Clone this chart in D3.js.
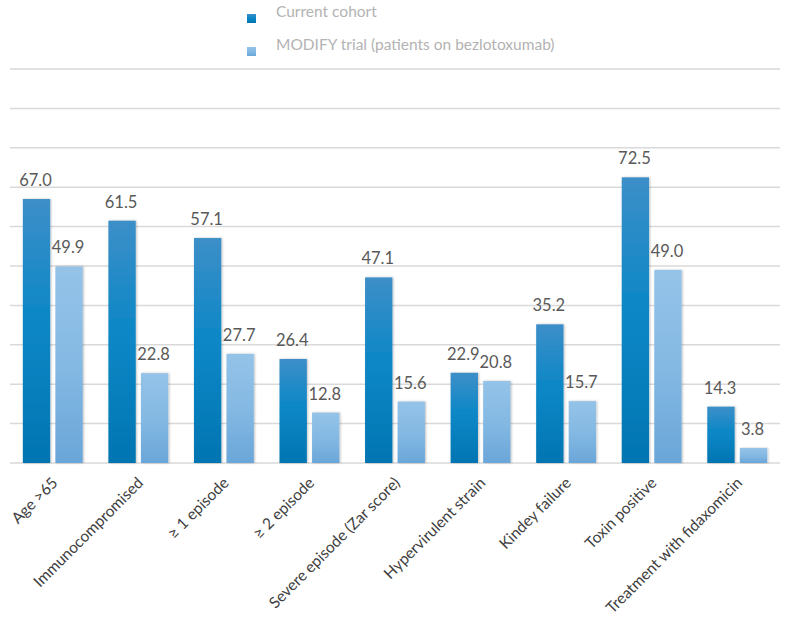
<!DOCTYPE html>
<html>
<head>
<meta charset="utf-8">
<script src="https://cdn.jsdelivr.net/npm/d3@7"></script>
<style>
  body { margin: 0; background: #fff; }
  svg text { font-family: Lato, "Open Sans", sans-serif; }
</style>
</head>
<body>
<div id="chart"></div>
<script>
// chart values
const categories = ["Age >65", "Immunocompromised", "\u2265 1 episode", "\u2265 2 episode",
  "Severe episode (Zar score)", "Hypervirulent strain", "Kindey failure",
  "Toxin positive", "Treatment with fidaxomicin"];
const seriesNames = ["Current cohort", "MODIFY trial (patients on bezlotoxumab)"];
const currentCohort = [67.0, 61.5, 57.1, 26.4, 47.1, 22.9, 35.2, 72.5, 14.3];
const modifyTrial = [49.9, 22.8, 27.7, 12.8, 15.6, 20.8, 15.7, 49.0, 3.8];
const gridTicks = [0, 10, 20, 30, 40, 50, 60, 70, 80, 90, 100];

function main() {
    const width = 790, height = 625;
    const margin = { top: 69, right: 10, bottom: 162, left: 10 };

    const svg = d3.select("#chart").append("svg")
        .attr("width", width)
        .attr("height", height);

    // gradients for the two series
    const defs = svg.append("defs");
    const grads = [
        ["g0", [["0%", "#3d8fc8"], ["50%", "#0786c6"], ["100%", "#0675b1"]]],
        ["g1", [["0%", "#95c3e8"], ["50%", "#84b9e3"], ["100%", "#6aa6d9"]]]
    ];
    grads.forEach(g => {
        const lg = defs.append("linearGradient")
            .attr("id", g[0])
            .attr("x1", 0).attr("y1", 0).attr("x2", 0).attr("y2", 1);
        g[1].forEach(s => lg.append("stop").attr("offset", s[0]).attr("stop-color", s[1]));
    });
    const shadow = defs.append("filter").attr("id", "shadow")
        .attr("x", "-20%").attr("y", "-5%").attr("width", "140%").attr("height", "110%");
    shadow.append("feDropShadow")
        .attr("dx", 1).attr("dy", 0).attr("stdDeviation", 1.2)
        .attr("flood-color", "#000").attr("flood-opacity", 0.25);

    const x0 = d3.scaleBand()
        .domain(categories)
        .range([margin.left, width - margin.right])
        .paddingInner(0.3)
        .paddingOuter(0.15);

    const x1 = d3.scaleBand()
        .domain([0, 1])
        .range([0, x0.bandwidth()])
        .paddingInner(0.16);

    const y = d3.scaleLinear()
        .domain([0, 100])
        .range([height - margin.bottom, margin.top]);

    // gridlines
    svg.append("g")
        .selectAll("line")
        .data(gridTicks)
        .enter()
        .append("line")
        .attr("x1", margin.left)
        .attr("x2", width - margin.right)
        .attr("y1", d => y(d))
        .attr("y2", d => y(d))
        .attr("stroke", "#d9d9d9")
        .attr("stroke-width", 1.5);

    const rows = categories.map((c, i) => ({ cat: c, vals: [currentCohort[i], modifyTrial[i]] }));

    const groups = svg.append("g")
        .selectAll("g")
        .data(rows)
        .enter()
        .append("g")
        .attr("transform", d => "translate(" + x0(d.cat) + ",0)");

    groups.selectAll("rect")
        .data(d => d.vals.map((v, k) => ({ v: v, k: k })))
        .enter()
        .append("rect")
        .attr("x", d => x1(d.k))
        .attr("y", d => y(d.v))
        .attr("width", x1.bandwidth())
        .attr("height", d => y(0) - y(d.v))
        .attr("fill", d => "url(#g" + d.k + ")")
        .attr("filter", "url(#shadow)");

    groups.selectAll("text")
        .data(d => d.vals.map((v, k) => ({ v: v, k: k })))
        .enter()
        .append("text")
        .attr("x", d => x1(d.k) + x1.bandwidth() / 2 - 1)
        .attr("y", d => y(d.v) - 13)
        .attr("text-anchor", "middle")
        .attr("font-size", 16.5)
        .attr("fill", "#595959")
        .text(d => d.v.toFixed(1));

    // category labels
    svg.append("g")
        .selectAll("text")
        .data(categories)
        .enter()
        .append("text")
        .attr("transform", d => "translate(" + (x0(d) + x0.bandwidth() / 2 + 2) + "," + (y(0) + 17) + ") rotate(-45)")
        .attr("text-anchor", "end")
        .attr("dy", "0.35em")
        .attr("font-size", 15.5)
        .attr("fill", "#404040")
        .text(d => d);

    // legend
    const legend = svg.append("g")
        .selectAll("g")
        .data(seriesNames)
        .enter()
        .append("g")
        .attr("transform", (d, i) => "translate(247," + (12 + i * 33) + ")");

    legend.append("rect")
        .attr("x", 0).attr("y", 2)
        .attr("width", 9).attr("height", 9)
        .attr("fill", (d, i) => "url(#g" + i + ")");

    legend.append("text")
        .attr("x", 29)
        .attr("y", 0)
        .attr("dy", "0.35em")
        .attr("font-size", 15.5)
        .attr("fill", "#b3b3b3")
        .text(d => d);
}
window.addEventListener("load", main);
</script>
</body>
</html>
